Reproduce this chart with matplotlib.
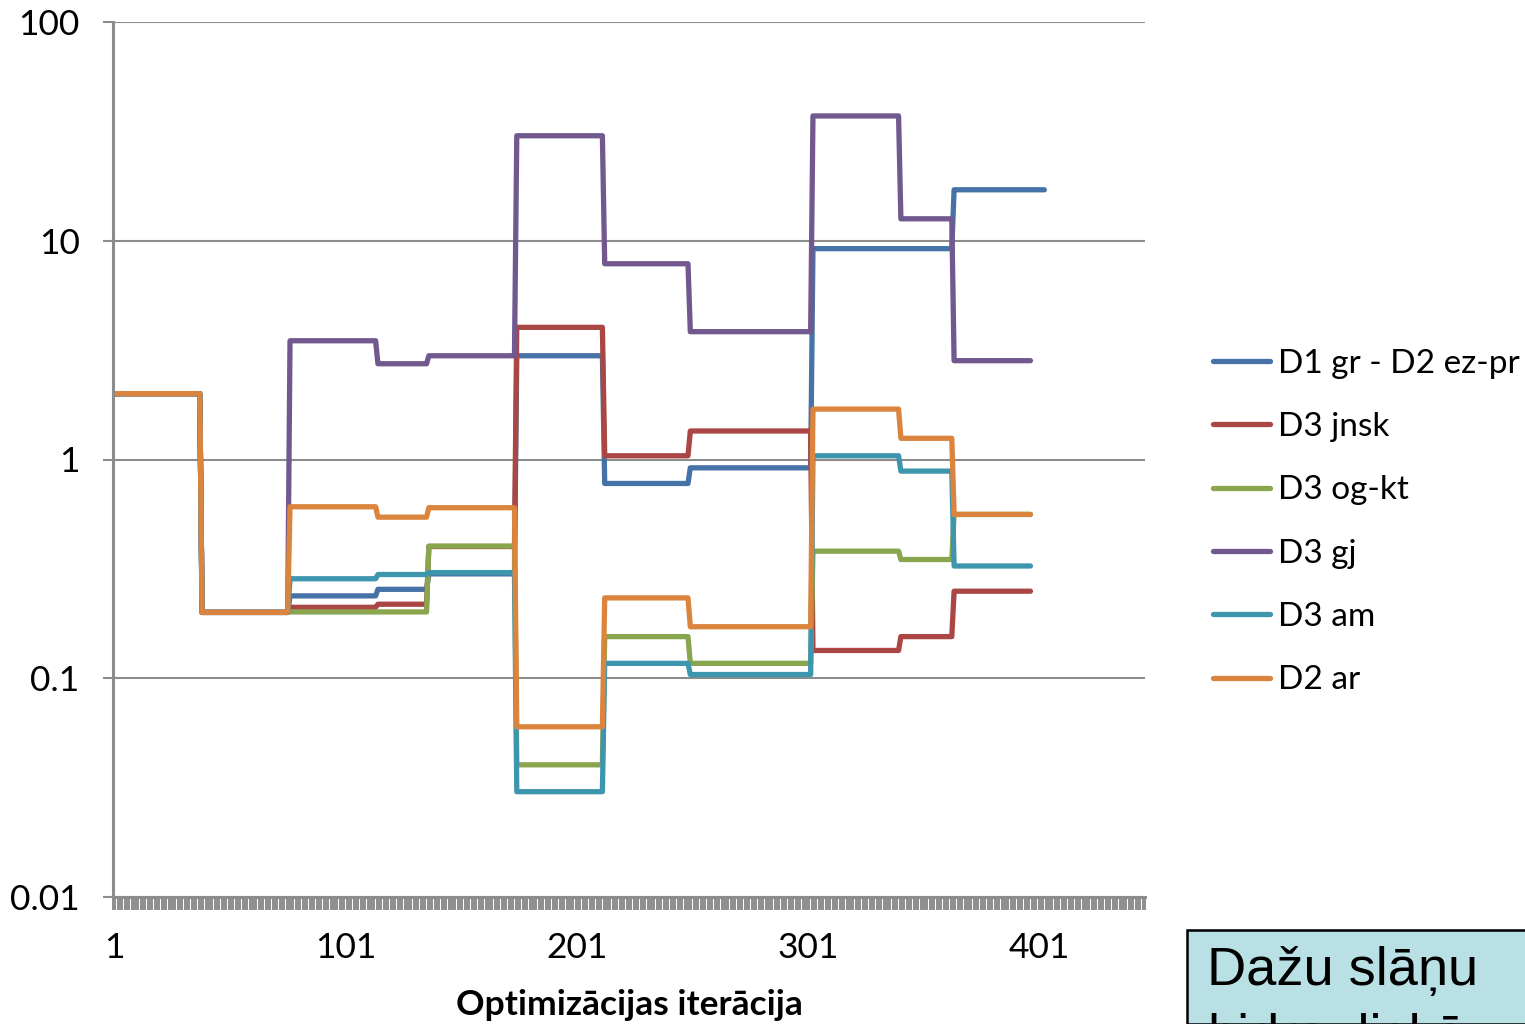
import matplotlib
matplotlib.use('Agg')
import matplotlib.pyplot as plt
from matplotlib.patches import Rectangle
from matplotlib.ticker import FixedLocator, NullFormatter
import numpy as np

plt.rcParams['font.family'] = ['Lato', 'DejaVu Sans']

# Step data: every series holds a constant value inside each iteration block
SEG_ENDS = [38, 76, 114, 136, 174, 212, 249, 302, 340, 363]
N_CATEGORIES = 446

series_names = ['D1 gr - D2 ez-pr', 'D3 jnsk', 'D3 og-kt', 'D3 gj', 'D3 am', 'D2 ar']
series_last = [403, 397, 397, 397, 397, 397]
series_colors = ['#4572A7', '#AA4643', '#89A54E', '#71588F', '#3D96AE', '#DB843D']

blue_vals = [2, 0.2, 0.238, 0.255, 0.30, 2.98, 0.777, 0.916, 9.2, 9.2, 17.1]
red_vals = [2, 0.2, 0.211, 0.218, 0.40, 4.02, 1.04, 1.35, 0.134, 0.155, 0.250]
green_vals = [2, 0.2, 0.201, 0.201, 0.402, 0.0402, 0.155, 0.117, 0.381, 0.349, 0.561]
purple_vals = [2, 0.2, 3.49, 2.74, 2.98, 30.2, 7.85, 3.84, 37.2, 12.6, 2.83]
teal_vals = [2, 0.2, 0.285, 0.298, 0.304, 0.0303, 0.117, 0.104, 1.04, 0.885, 0.326]
orange_vals = [2, 0.2, 0.608, 0.545, 0.602, 0.060, 0.233, 0.172, 1.70, 1.25, 0.561]

all_vals = [blue_vals, red_vals, green_vals, purple_vals, teal_vals, orange_vals]


def expand(vals, last):
    ends = SEG_ENDS + [last]
    out = []
    start = 0
    for end, v in zip(ends, vals):
        out += [v] * (end - start)
        start = end
    return np.array(out)


fig = plt.figure(figsize=(15.25, 10.24), dpi=100)
ax = fig.add_axes([113 / 1525, 1 - 897 / 1024, 1032 / 1525, 875 / 1024])

for name, vals, last, col in zip(series_names, all_vals, series_last, series_colors):
    y = expand(vals, last)
    x = np.arange(1, len(y) + 1)
    ax.plot(x, y, color=col, lw=3.8, label=name, solid_capstyle='round',
            solid_joinstyle='round')

ax.set_yscale('log')
ax.set_ylim(0.01, 100)
ax.set_xlim(0.5, N_CATEGORIES + 0.5)

grid_col = '#8c8c8c'
ax.yaxis.set_major_locator(FixedLocator([0.01, 0.1, 1, 10, 100]))
ax.yaxis.set_minor_locator(FixedLocator([]))
ax.set_yticklabels(['0.01', '0.1', '1', '10', '100'])
ax.grid(axis='y', color=grid_col, lw=1.5)
ax.set_axisbelow(True)

# category labels every 100 iterations, tick marks between every category
ax.xaxis.set_major_locator(FixedLocator([1, 101, 201, 301, 401]))
ax.set_xticklabels(['1', '101', '201', '301', '401'])
ax.xaxis.set_minor_locator(FixedLocator(np.arange(0.5, N_CATEGORIES + 1, 1.0)))
ax.xaxis.set_minor_formatter(NullFormatter())
ax.tick_params(axis='x', which='major', length=0, pad=25, labelsize=25.5)
ax.tick_params(axis='x', which='minor', length=9, width=1.4, color=grid_col)
ax.tick_params(axis='y', which='major', length=7, width=1.5, color=grid_col,
               pad=17, labelsize=25.5)

for side in ['top', 'right']:
    ax.spines[side].set_visible(False)
ax.spines['left'].set_color(grid_col)
ax.spines['left'].set_linewidth(2.2)
ax.spines['bottom'].set_color(grid_col)
ax.spines['bottom'].set_linewidth(2.2)

ax.set_xlabel('Optimizācijas iterācija', fontsize=25.5, fontweight='bold', labelpad=18)

fig.legend(loc='center left', bbox_to_anchor=(1213 / 1525, 1 - 522 / 1024),
           frameon=False, fontsize=24, handlelength=1.7, handletextpad=0.25,
           labelspacing=1.0, borderpad=0, borderaxespad=0)

# note box in the lower right corner
fig.patches.append(Rectangle((1187 / 1525, 0), 0.5, 1 - 930 / 1024,
                             transform=fig.transFigure, facecolor='#b9e0e4',
                             edgecolor='black', lw=1.8, zorder=5))
note_font = ['Liberation Sans', 'DejaVu Sans']
fig.text(1207 / 1525, 1 - 985 / 1024, 'Dažu slāņu', fontsize=39,
         family=note_font, va='baseline', ha='left', zorder=6)
fig.text(1207 / 1525, 1 - 1052 / 1024, 'hidrauliskā', fontsize=39,
         family=note_font, va='baseline', ha='left', zorder=6)

fig.savefig('out.png', dpi=100)
